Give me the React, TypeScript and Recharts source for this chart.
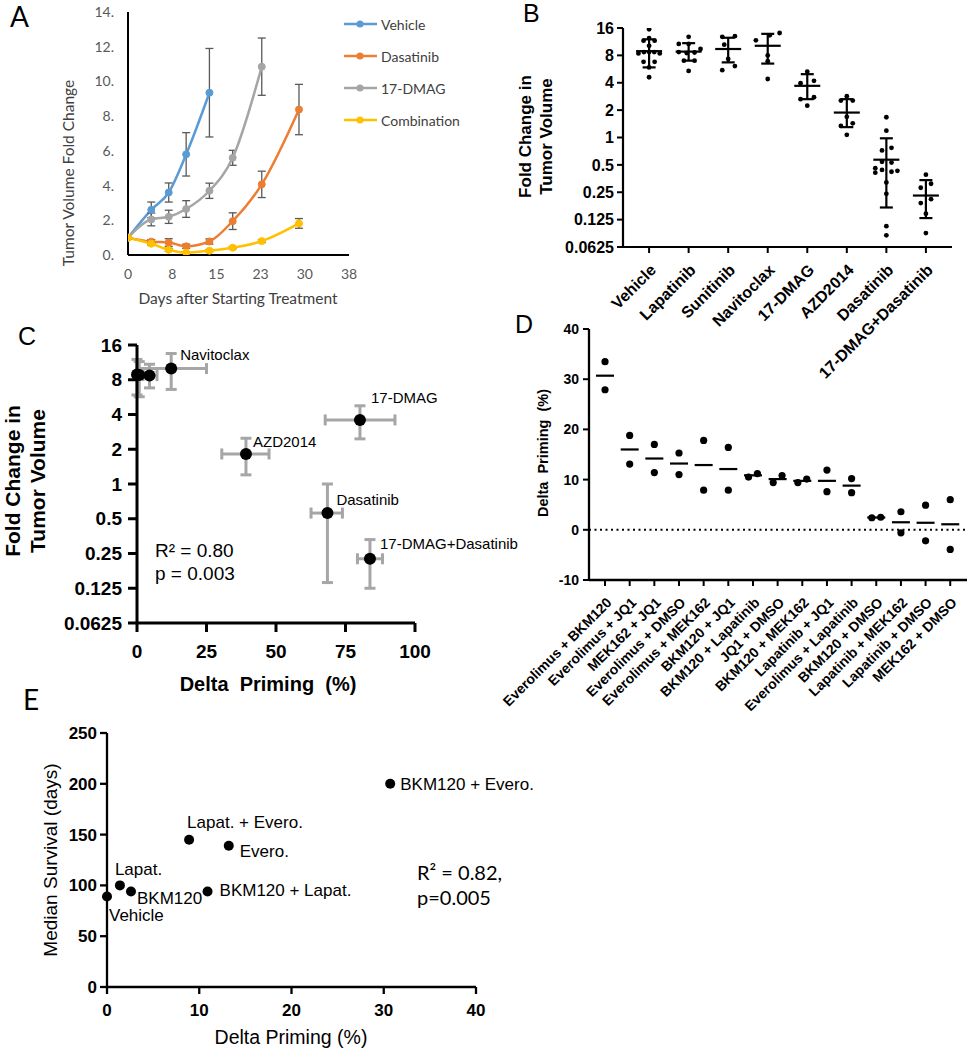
import React from 'react';
import { LineChart, Line, ScatterChart, Scatter, XAxis, YAxis, ErrorBar, ReferenceLine } from 'recharts';

const ARIAL = '"Liberation Sans", Arial, Helvetica, sans-serif';
const CAL = 'Lato, "Open Sans", sans-serif';

// ---------------- Panel A: tumor volume over time ----------------
const aSeriesNames = ['Vehicle', 'Dasatinib', '17-DMAG', 'Combination'];
const aSeriesColors = ['#5B9BD5', '#ED7D31', '#A5A5A5', '#FFC000'];
const aVehicleDays = [0, 4, 7, 10, 14];
const aVehicleMean = [1.0, 2.6, 3.6, 5.8, 9.35];
const aVehicleErr = [0, 0.45, 0.55, 1.25, 2.55];
const aDasatinibDays = [0, 4, 7, 10, 14, 18, 23, 29.4];
const aDasatinibMean = [1.0, 0.77, 0.72, 0.5, 0.78, 1.95, 4.07, 8.38];
const aDasatinibErr = [0, 0.12, 0.22, 0.12, 0.15, 0.48, 0.76, 1.45];
const aDmagDays = [0, 4, 7, 10, 14, 18, 23];
const aDmagMean = [1.0, 2.05, 2.2, 2.65, 3.7, 5.6, 10.85];
const aDmagErr = [0, 0.37, 0.38, 0.48, 0.44, 0.43, 1.65];
const aComboDays = [0, 4, 7, 10, 14, 18, 23, 29.4];
const aComboMean = [1.0, 0.65, 0.3, 0.13, 0.25, 0.42, 0.8, 1.82];
const aComboErr = [0, 0.08, 0.08, 0.06, 0.06, 0.06, 0.08, 0.28];
const aXTicks = [0, 7.6, 15.2, 22.8, 30.4, 38];
const aYTicks = [0, 2, 4, 6, 8, 10, 12, 14];

// ---------------- Panel B: fold change per treatment ----------------
const bGroups = ['Vehicle', 'Lapatinib', 'Sunitinib', 'Navitoclax', '17-DMAG', 'AZD2014', 'Dasatinib', '17-DMAG+Dasatinib'];
const bYTicks = [0.0625, 0.125, 0.25, 0.5, 1, 2, 4, 8, 16];
const bVehicle = [15.5, 12.4, 11.6, 11.6, 10.2, 8.4, 8.7, 8.7, 8.7, 8.4, 6.8, 6.8, 5.9, 4.6];
const bVehicleJit = [0, 0, -0.14, 0.14, 0, -0.27, -0.13, 0, 0.13, 0.27, -0.14, 0.14, 0, 0];
const bLapatinib = [12.8, 10.7, 10.7, 9.4, 8.7, 8.5, 8.6, 7.0, 7.0, 5.4];
const bLapatinibJit = [0, -0.25, 0, 0.3, -0.25, -0.05, 0.15, -0.12, 0.15, 0];
const bSunitinib = [12.8, 13.0, 10.5, 7.3, 6.1, 5.5];
const bSunitinibJit = [-0.15, 0.17, -0.1, 0, 0.17, -0.15];
const bNavitoclax = [14.1, 13.3, 11.7, 8.0, 6.9, 4.4];
const bNavitoclaxJit = [0.3, 0.05, -0.3, 0, 0, 0];
const bDmag = [5.3, 3.95, 4.2, 2.64, 2.77, 2.24];
const bDmagJit = [0, -0.17, 0.17, -0.17, 0.17, 0];
const bAzd = [2.85, 2.55, 2.55, 1.69, 1.34, 1.43, 1.07];
const bAzdJit = [0, -0.15, 0.15, 0, -0.15, 0.15, 0];
const bDasatinib = [1.67, 1.19, 0.77, 0.72, 0.54, 0.53, 0.46, 0.44, 0.42, 0.43, 0.41, 0.32, 0.24, 0.106, 0.084];
const bDasatinibJit = [0, 0, 0.13, -0.11, -0.11, 0.13, -0.28, -0.11, 0.13, 0.28, -0.28, 0, 0, 0, 0];
const bCombo = [0.39, 0.28, 0.31, 0.19, 0.21, 0.145, 0.089];
const bComboJit = [0, -0.13, 0.13, -0.13, 0.13, 0, 0];
const bMean = [8.9, 8.8, 9.4, 10.2, 3.7, 1.88, 0.57, 0.23];
const bSdLow = [5.9, 7.0, 6.7, 6.5, 2.64, 1.3, 0.17, 0.13];
const bSdHigh = [12.0, 10.9, 12.5, 13.8, 4.97, 2.64, 0.98, 0.34];

// ---------------- Panel C: fold change vs delta priming ----------------
const cNames = ['Vehicle', 'Lapatinib', 'Sunitinib', 'Navitoclax', 'AZD2014', '17-DMAG', 'Dasatinib', '17-DMAG+Dasatinib'];
const cShownLabels = ['Navitoclax', 'AZD2014', '17-DMAG', 'Dasatinib', '17-DMAG+Dasatinib'];
const cPriming = [0, 0.8, 4.5, 12.3, 39.2, 80.2, 68.5, 83.8];
const cPrimingLow = [null, null, 2.2, 0, 30.5, 67.7, 62.6, 79.3];
const cPrimingHigh = [null, null, 7.2, 25, 47.5, 92.8, 73.9, 88.3];
const cFold = [8.9, 8.8, 8.7, 10.0, 1.82, 3.59, 0.56, 0.225];
const cFoldLow = [5.9, 5.7, 6.8, 6.6, 1.2, 2.46, 0.14, 0.125];
const cFoldHigh = [12.0, 11.5, 10.9, 13.5, 2.49, 4.76, 1.0, 0.33];
const cXTicks = [0, 25, 50, 75, 100];

// ---------------- Panel D: delta priming per combination ----------------
const dGroups = ['Everolimus + BKM120', 'Everolimus + JQ1', 'MEK162 + JQ1', 'Everolimus + DMSO', 'Everolimus + MEK162', 'BKM120 + JQ1', 'BKM120 + Lapatinib', 'JQ1 + DMSO', 'BKM120 + MEK162', 'Lapatinib + JQ1', 'Everolimus + Lapatinib', 'BKM120 + DMSO', 'Lapatinib + MEK162', 'Lapatinib + DMSO', 'MEK162 + DMSO'];
const dRep1 = [33.5, 18.8, 17.0, 15.3, 17.8, 16.4, 10.5, 9.4, 9.4, 11.9, 10.2, 2.4, 3.6, 4.9, 6.0];
const dRep2 = [27.9, 13.1, 11.4, 11.0, 7.9, 7.9, 11.2, 10.8, 10.1, 7.6, 7.4, 2.5, -0.6, -2.2, -3.9];
const dJit1 = [0, 0, 0, 0, 0, 0, -0.18, -0.18, -0.18, 0, 0, -0.18, 0, 0, 0];
const dJit2 = [0, 0, 0, 0, 0, 0, 0.18, 0.18, 0.18, 0, 0, 0.18, 0, 0, 0];
const dMean = [30.7, 16.0, 14.2, 13.2, 12.9, 12.1, 10.85, 10.1, 9.75, 9.75, 8.8, 2.45, 1.5, 1.4, 1.1];
const dYTicks = [-10, 0, 10, 20, 30, 40];

// ---------------- Panel E: survival vs delta priming ----------------
const eNames = ['Vehicle', 'Lapat.', 'BKM120', 'Lapat. + Evero.', 'Evero.', 'BKM120 + Lapat.', 'BKM120 + Evero.'];
const ePriming = [0, 1.4, 2.6, 8.9, 13.2, 10.9, 30.7];
const eSurvival = [89, 100, 94, 145, 139, 94, 200];
const eXTicks = [0, 10, 20, 30, 40];
const eYTicks = [0, 50, 100, 150, 200, 250];

// label placement (pixels relative to point), kept out of data
const cLabelOffset: Record<string, [number, number]> = {
  Navitoclax: [9, -14], '17-DMAG': [11, -22], AZD2014: [7, -12], Dasatinib: [9, -13], '17-DMAG+Dasatinib': [10, -15],
};
const eLabelOffset: Record<string, [number, number]> = {
  Vehicle: [2, 18], 'Lapat.': [-5, -16], BKM120: [6, 7], 'Lapat. + Evero.': [-2, -18], 'Evero.': [11, 5], 'BKM120 + Lapat.': [12, -1], 'BKM120 + Evero.': [10, 0],
};

const zipA = (xs: number[], ys: number[], es: number[]) => xs.map((x, i) => ({ x, y: ys[i], e: es[i] }));
const aSeriesData = [
  zipA(aVehicleDays, aVehicleMean, aVehicleErr),
  zipA(aDasatinibDays, aDasatinibMean, aDasatinibErr),
  zipA(aDmagDays, aDmagMean, aDmagErr),
  zipA(aComboDays, aComboMean, aComboErr),
];

const blackAxis = (w: number) => ({ stroke: '#000', strokeWidth: w });
const hiddenTick = { stroke: 'none' };

function RotTick(props: any) {
  const { x, y, payload, labels, fontSize } = props;
  return (
    <g transform={`translate(${x + 4},${y + 12})`}>
      <text textAnchor="end" transform="rotate(-45)" dy="0.35em" fontSize={fontSize} fontWeight="bold" fontFamily={ARIAL} fill="#000">
        {labels[payload.value]}
      </text>
    </g>
  );
}

const dotShape = (r: number) => (p: any) => <circle cx={p.cx} cy={p.cy} r={r} fill="#000" />;
const meanShape = (half: number) => (p: any) => (
  <line x1={p.cx - half} x2={p.cx + half} y1={p.cy} y2={p.cy} stroke="#000" strokeWidth={2.2} />
);

function PanelA() {
  return (
    <LineChart width={480} height={310} margin={{ top: 12, right: 131, bottom: 0, left: 0 }}>
      <XAxis type="number" dataKey="x" domain={[0, 38]} ticks={aXTicks} interval={0} allowDataOverflow height={55}
        tickFormatter={(v: number) => String(Math.round(v))} axisLine={blackAxis(2)} tickLine={hiddenTick} tickSize={6} tickMargin={8}
        tick={{ fill: '#595959', fontSize: 14, fontFamily: CAL }} />
      <YAxis type="number" domain={[0, 14]} ticks={aYTicks} interval={0} allowDataOverflow width={128}
        tickFormatter={(v: number) => `${v}.`} axisLine={blackAxis(2)} tickLine={hiddenTick} tickSize={6} tickMargin={8}
        tick={{ fill: '#595959', fontSize: 14, fontFamily: CAL }} />
      {aSeriesData.map((data, i) => (
        <Line key={aSeriesNames[i]} name={aSeriesNames[i]} data={data} dataKey="y" type="monotone" stroke={aSeriesColors[i]} strokeWidth={2.5}
          dot={{ r: 3.5, fill: aSeriesColors[i], stroke: aSeriesColors[i], strokeWidth: 1 }} isAnimationActive={false}>
          <ErrorBar dataKey="e" direction="y" width={4} strokeWidth={1.3} stroke="#595959" />
        </Line>
      ))}
    </LineChart>
  );
}

function PanelB() {
  const groupsVals = [bVehicle, bLapatinib, bSunitinib, bNavitoclax, bDmag, bAzd, bDasatinib, bCombo];
  const groupsJit = [bVehicleJit, bLapatinibJit, bSunitinibJit, bNavitoclaxJit, bDmagJit, bAzdJit, bDasatinibJit, bComboJit];
  const pts = groupsVals.flatMap((vals, g) => vals.map((v, i) => ({ x: g + groupsJit[g][i], y: v })));
  const summary = bGroups.map((_, g) => ({ x: g, y: bMean[g], sd: [bMean[g] - bSdLow[g], bSdHigh[g] - bMean[g]] }));
  return (
    <ScatterChart width={478} height={420} margin={{ top: 28, right: 16, bottom: 0, left: 0 }}>
      <XAxis type="number" dataKey="x" domain={[-0.66, 7.66]} ticks={bGroups.map((_, i) => i)} interval={0} allowDataOverflow height={173}
        axisLine={blackAxis(2.2)} tickLine={blackAxis(2)} tickSize={6} tickMargin={2}
        tick={(p: any) => <RotTick {...p} labels={bGroups} fontSize={16} />} />
      <YAxis type="number" dataKey="y" scale="log" domain={[0.0625, 16]} ticks={bYTicks} interval={0} allowDataOverflow width={133}
        axisLine={blackAxis(2.2)} tickLine={blackAxis(2)} tickSize={6} tickMargin={3} tickFormatter={(v: number) => String(v)}
        tick={{ fill: '#000', fontSize: 16, fontWeight: 'bold', fontFamily: ARIAL }} />
      <Scatter data={pts} shape={dotShape(2.4)} isAnimationActive={false} />
      <Scatter data={summary} shape={meanShape(13)} isAnimationActive={false}>
        <ErrorBar dataKey="sd" direction="y" width={6.5} strokeWidth={2.2} stroke="#000" />
      </Scatter>
    </ScatterChart>
  );
}

function PanelC() {
  const pts = cNames.map((name, i) => ({
    name,
    x: cPriming[i],
    y: cFold[i],
    xErr: cPrimingLow[i] == null ? null : [cPriming[i] - (cPrimingLow[i] as number), (cPrimingHigh[i] as number) - cPriming[i]],
    yErr: [cFold[i] - cFoldLow[i], cFoldHigh[i] - cFold[i]],
  }));
  const shape = (p: any) => {
    const nm = p.payload?.name;
    const off = cLabelOffset[nm];
    return (
      <g>
        <circle cx={p.cx} cy={p.cy} r={6} fill="#000" />
        {off && cShownLabels.includes(nm) ? (
          <text x={p.cx + off[0]} y={p.cy + off[1]} dy="0.35em" fontSize={15} fontFamily={ARIAL} fill="#000">{nm}</text>
        ) : null}
      </g>
    );
  };
  return (
    <ScatterChart width={530} height={385} margin={{ top: 30, right: 115, bottom: 0, left: 0 }}>
      <XAxis type="number" dataKey="x" domain={[0, 100]} ticks={cXTicks} interval={0} height={77}
        axisLine={blackAxis(3)} tickLine={blackAxis(3)} tickSize={9} tickMargin={13}
        tick={{ fill: '#000', fontSize: 19, fontWeight: 'bold', fontFamily: ARIAL }} />
      <YAxis type="number" dataKey="y" scale="log" domain={[0.0625, 16]} ticks={bYTicks} interval={0} width={137}
        axisLine={blackAxis(3)} tickLine={blackAxis(3)} tickSize={9} tickMargin={6} tickFormatter={(v: number) => String(v)}
        tick={{ fill: '#000', fontSize: 19, fontWeight: 'bold', fontFamily: ARIAL }} />
      <Scatter data={pts} shape={shape} isAnimationActive={false}>
        <ErrorBar dataKey="xErr" direction="x" width={5.5} strokeWidth={3} stroke="#a6a6a6" />
        <ErrorBar dataKey="yErr" direction="y" width={5.5} strokeWidth={3} stroke="#a6a6a6" />
      </Scatter>
    </ScatterChart>
  );
}

function PanelD() {
  const pts = dGroups.flatMap((_, g) => [
    { x: g + dJit1[g], y: dRep1[g] },
    { x: g + dJit2[g], y: dRep2[g] },
  ]);
  const means = dGroups.map((_, g) => ({ x: g, y: dMean[g] }));
  return (
    <ScatterChart width={478} height={420} margin={{ top: 29, right: 1, bottom: 0, left: 0 }}>
      <XAxis type="number" dataKey="x" domain={[-0.65, 14.68]} ticks={dGroups.map((_, i) => i)} interval={0} allowDataOverflow height={140}
        axisLine={blackAxis(2.3)} tickLine={blackAxis(2)} tickSize={6} tickMargin={2}
        tick={(p: any) => <RotTick {...p} labels={dGroups} fontSize={14} />} />
      <YAxis type="number" dataKey="y" domain={[-10, 40]} ticks={dYTicks} interval={0} allowDataOverflow width={99}
        axisLine={blackAxis(2.3)} tickLine={blackAxis(2)} tickSize={6} tickMargin={4}
        tick={{ fill: '#000', fontSize: 14, fontWeight: 'bold', fontFamily: ARIAL }} />
      <ReferenceLine y={0} stroke="#000" strokeWidth={2} strokeDasharray="2 3.5" />
      <Scatter data={means} shape={meanShape(9)} isAnimationActive={false} />
      <Scatter data={pts} shape={dotShape(3.6)} isAnimationActive={false} />
    </ScatterChart>
  );
}

function PanelE() {
  const pts = eNames.map((name, i) => ({ name, x: ePriming[i], y: eSurvival[i] }));
  const shape = (p: any) => {
    const nm = p.payload?.name;
    const off = eLabelOffset[nm] || [8, 0];
    return (
      <g>
        <circle cx={p.cx} cy={p.cy} r={5} fill="#000" />
        <text x={p.cx + off[0]} y={p.cy + off[1]} dy="0.35em" fontSize={17} fontFamily={ARIAL} fill="#000">{nm}</text>
      </g>
    );
  };
  return (
    <ScatterChart width={540} height={350} margin={{ top: 33, right: 64, bottom: 0, left: 0 }}>
      <XAxis type="number" dataKey="x" domain={[0, 40]} ticks={eXTicks} interval={0} height={63}
        axisLine={blackAxis(2.3)} tickLine={blackAxis(2.3)} tickSize={7} tickMargin={10}
        tick={{ fill: '#000', fontSize: 17, fontWeight: 'bold', fontFamily: ARIAL }} />
      <YAxis type="number" dataKey="y" domain={[0, 250]} ticks={eYTicks} interval={0} width={107}
        axisLine={blackAxis(2.3)} tickLine={blackAxis(2.3)} tickSize={7} tickMargin={3}
        tick={{ fill: '#000', fontSize: 17, fontWeight: 'bold', fontFamily: ARIAL }} />
      <Scatter data={pts} shape={shape} isAnimationActive={false} />
    </ScatterChart>
  );
}

function VText({ x, y, children, ...rest }: any) {
  return (
    <text x={x} y={y} transform={`rotate(-90 ${x} ${y})`} textAnchor="middle" dominantBaseline="central" {...rest}>{children}</text>
  );
}

function Overlay() {
  const pre = { whiteSpace: 'pre' } as React.CSSProperties;
  return (
    <svg width={968} height={1050} style={{ position: 'absolute', left: 0, top: 0, pointerEvents: 'none' }}>
      {/* panel letters */}
      <text x={10} y={27} fontFamily={CAL} fontSize={28} fill="#000">A</text>
      <text x={523} y={22} fontFamily={ARIAL} fontSize={25} fill="#000">B</text>
      <text x={18} y={345} fontFamily={ARIAL} fontSize={25} fill="#000">C</text>
      <text x={515} y={333} fontFamily={ARIAL} fontSize={25} fill="#000">D</text>
      <text x={23} y={710} fontFamily={CAL} fontSize={28} fill="#000">E</text>

      {/* A titles + legend */}
      <VText x={68} y={173} fontFamily={CAL} fontSize={15.5} fill="#404040">Tumor Volume Fold Change</VText>
      <text x={238} y={298} textAnchor="middle" dominantBaseline="central" fontFamily={CAL} fontSize={15.5} fill="#404040">Days after Starting Treatment</text>
      {aSeriesNames.map((n, i) => (
        <g key={n}>
          <line x1={344} x2={377} y1={24 + 32 * i} y2={24 + 32 * i} stroke={aSeriesColors[i]} strokeWidth={2.5} />
          <circle cx={360} cy={24 + 32 * i} r={3.5} fill={aSeriesColors[i]} />
          <text x={381} y={24 + 32 * i} dominantBaseline="central" fontFamily={CAL} fontSize={14} fill="#404040">{n}</text>
        </g>
      ))}

      {/* B titles */}
      <VText x={525.5} y={136.5} fontFamily={ARIAL} fontSize={17} fontWeight="bold" fill="#000">Fold Change in</VText>
      <VText x={546.5} y={136.5} fontFamily={ARIAL} fontSize={17} fontWeight="bold" fill="#000">Tumor Volume</VText>

      {/* C titles */}
      <VText x={12} y={481} fontFamily={ARIAL} fontSize={21} fontWeight="bold" fill="#000">Fold Change in</VText>
      <VText x={37} y={481} fontFamily={ARIAL} fontSize={21} fontWeight="bold" fill="#000">Tumor Volume</VText>
      <text x={268} y={691} textAnchor="middle" fontFamily={ARIAL} fontSize={20} fontWeight="bold" fill="#000" style={pre}>{'Delta  Priming  (%)'}</text>
      <text x={155} y={557} fontFamily={ARIAL} fontSize={19} fill="#000">R² = 0.80</text>
      <text x={155} y={580} fontFamily={ARIAL} fontSize={19} fill="#000">p = 0.003</text>

      {/* D title */}
      <VText x={543} y={453} fontFamily={ARIAL} fontSize={14.5} fontWeight="bold" fill="#000" style={pre}>{'Delta  Priming  (%)'}</VText>

      {/* E titles */}
      <VText x={50} y={860} fontFamily={ARIAL} fontSize={19} fill="#000">Median Survival (days)</VText>
      <text x={291} y={1044} textAnchor="middle" fontFamily={ARIAL} fontSize={19.5} fill="#000">Delta Priming (%)</text>
      <text x={417} y={880} fontFamily={CAL} fontSize={20} fill="#000">R² = 0.82,</text>
      <text x={417} y={905} fontFamily={CAL} fontSize={20} fill="#000">p=0.005</text>
    </svg>
  );
}

export default function App() {
  return (
    <div style={{ position: 'absolute', left: 0, top: 0, width: 968, height: 1050, background: '#fff', overflow: 'hidden' }}>
      <div style={{ position: 'absolute', left: 0, top: 0 }}><PanelA /></div>
      <div style={{ position: 'absolute', left: 490, top: 0 }}><PanelB /></div>
      <div style={{ position: 'absolute', left: 0, top: 315 }}><PanelC /></div>
      <div style={{ position: 'absolute', left: 490, top: 300 }}><PanelD /></div>
      <div style={{ position: 'absolute', left: 0, top: 700 }}><PanelE /></div>
      <Overlay />
    </div>
  );
}
